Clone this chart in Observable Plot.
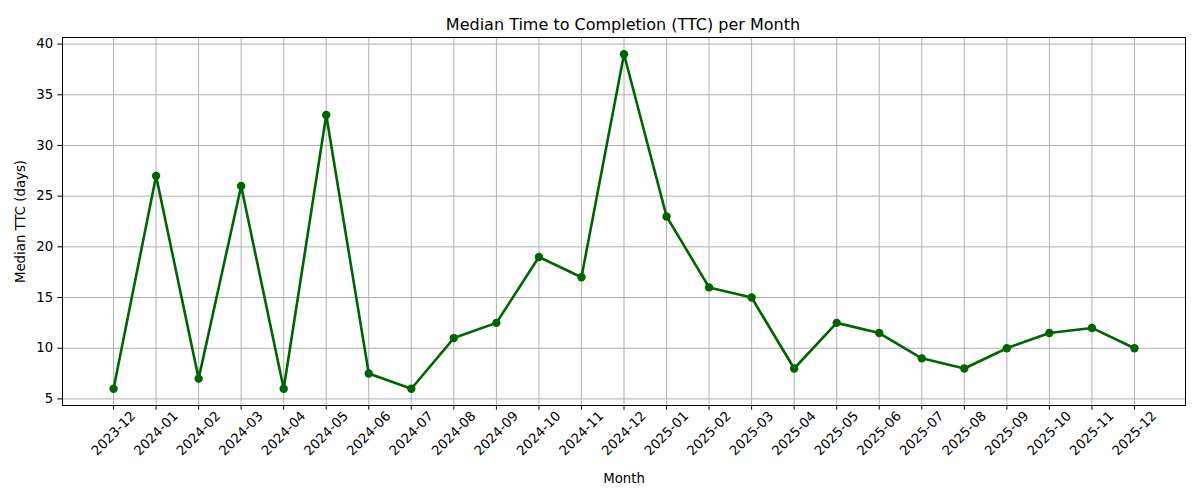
<!DOCTYPE html>
<html>
<head>
<meta charset="utf-8">
<script src="https://cdn.jsdelivr.net/npm/d3@7"></script>
<script src="https://cdn.jsdelivr.net/npm/@observablehq/plot@0.6"></script>
<style>
  html, body { margin: 0; padding: 0; background: #fff; }
  #wrap { width: 1200px; font-family: "DejaVu Sans", sans-serif; }
  #title { height: 30px; position: relative; }
  #title span { position: absolute; left: 623px; top: 16px; transform: translateX(-50%); font-size: 16px; line-height: 18px; white-space: nowrap; color: #000; }
</style>
</head>
<body>
<div id="wrap">
  <div id="title"><span>Median Time to Completion (TTC) per Month</span></div>
  <div id="chart"></div>
</div>
<script>
const months = ["2023-12","2024-01","2024-02","2024-03","2024-04","2024-05","2024-06","2024-07","2024-08","2024-09","2024-10","2024-11","2024-12","2025-01","2025-02","2025-03","2025-04","2025-05","2025-06","2025-07","2025-08","2025-09","2025-10","2025-11","2025-12"];
const ttc = [6,27,7,26,6,33,7.5,6,11,12.5,19,17,39,23,16,15,8,12.5,11.5,9,8,10,11.5,12,10];
const yTicks = [5,10,15,20,25,30,35,40];

const data = months.map((m, i) => ({month: m, ttc: ttc[i]}));
const font = "DejaVu Sans, sans-serif";

const chart = Plot.plot({
  width: 1200,
  height: 470,
  marginLeft: 62,
  marginRight: 15,
  marginTop: 7,
  marginBottom: 95,
  style: {fontFamily: font, fontSize: "13.3px", color: "#000", background: "#fff"},
  x: {type: "point", domain: months, padding: 1.2, round: false},
  y: {domain: [4.35, 40.65]},
  marks: [
    Plot.gridX(months, {stroke: "#b0b0b0", strokeOpacity: 1, strokeWidth: 1}),
    Plot.gridY(yTicks, {stroke: "#b0b0b0", strokeOpacity: 1, strokeWidth: 1}),
    Plot.axisY(yTicks, {tickSize: 4.7, tickPadding: 4.7, fontSize: 13.3, label: "Median TTC (days)", labelAnchor: "center", labelArrow: "none", labelOffset: 47}),
    Plot.axisX(months, {tickSize: 4.7, tickFormat: () => "", label: "Month", labelAnchor: "center", labelArrow: "none", labelOffset: 77}),
    Plot.text(months, {x: d => d, frameAnchor: "bottom", dy: 28, rotate: -45, textAnchor: "middle", lineAnchor: "middle", fontSize: 13.3, fill: "#000"}),
    Plot.line(data, {x: "month", y: "ttc", stroke: "#006400", strokeWidth: 2.6}),
    Plot.dot(data, {x: "month", y: "ttc", fill: "#006400", r: 4.2}),
    Plot.frame({stroke: "#000", strokeWidth: 1})
  ]
});
document.getElementById("chart").appendChild(chart);
</script>
</body>
</html>
